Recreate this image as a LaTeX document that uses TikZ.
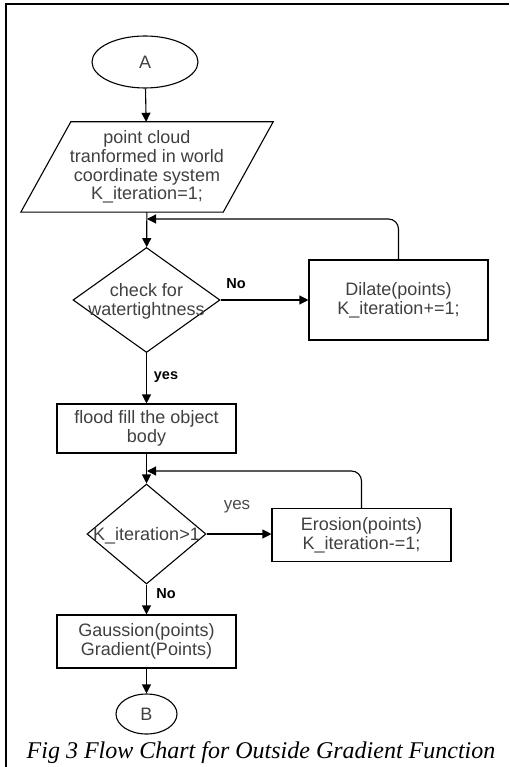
\documentclass[tikz,border=0pt]{standalone}
\usepackage{fontspec}
\setmainfont{Liberation Sans}
\newfontfamily\capfont{Liberation Serif}
\usetikzlibrary{shapes.geometric,arrows.meta}

\tikzset{
    boxtext/.style={text=black!75, align=center, inner sep=0pt, font=\fontsize{18}{18.7}\selectfont},
    flowbox/.style={boxtext, draw=black, rectangle, line width=1.1pt, minimum width=179pt},
    terminal/.style={boxtext, draw=black, ellipse, line width=1.1pt},
    decision/.style={draw=black, diamond, line width=1.1pt, inner sep=0pt},
    flowarrow/.style={line width=1.1pt, -{Triangle[length=9pt,width=9pt]}},
    branchlabel/.style={inner sep=0pt, font=\fontsize{14.5}{15}\selectfont\bfseries}
}

\begin{document}
\begin{tikzpicture}[x=1pt,y=-1pt]
\useasboundingbox (0,0) rectangle (509,767);

% frame
\draw[line width=2.2pt] (6.3,767) -- (6.3,4) -- (509,4);

% flow chart blocks
\node[terminal, minimum width=106pt, minimum height=52pt] (startA) at (145,62) {A};
\node[boxtext, minimum width=202pt, minimum height=90pt] (input) at (147,167)
    {point cloud\\tranformed in world\\coordinate system\\K\_iteration=1;};
\draw[line width=1.1pt] ([xshift=-25pt]input.south west) -- ([xshift=-25pt]input.south east)
    -- ([xshift=25pt]input.north east) -- ([xshift=25pt]input.north west) -- cycle;
\node[decision, minimum width=147pt, minimum height=105pt] (check) at (146.5,300) {};
\node[boxtext] (checktxt) at (146.5,301) {check for\\watertightness};
\node[flowbox, minimum height=80pt] (dilate) at (398.5,300) {Dilate(points)\\K\_iteration+=1;};
\node[flowbox, minimum height=49pt] (flood) at (146.5,428.5) {flood fill the object\\body};
\node[decision, minimum width=119pt, minimum height=100pt] (iter) at (146.5,534) {};
\node[boxtext] (itertxt) at (146.5,536) {K\_iteration>1};
\node[flowbox, minimum height=53pt] (erosion) at (361.5,535) {Erosion(points)\\K\_iteration-=1;};
\node[flowbox, minimum height=53pt] (smooth) at (146.5,641.5) {Gaussion(points)\\Gradient(Points)};
\node[terminal, minimum width=61pt, minimum height=40pt] (endB) at (146.5,714) {B};

% main line
\foreach \a/\b in {startA/input, input/check, check/flood, flood/iter, iter/smooth, smooth/endB}
    \draw[flowarrow] (\a) -- (\b);

% side branches and loops back
\coordinate (loopA) at (147,219);
\coordinate (loopB) at (147,471);
\draw[flowarrow] (check.east) -- (check.east -| dilate.west);
\draw[flowarrow, rounded corners=10pt] (dilate.north) |- (loopA);
\draw[flowarrow] (iter.east) -- (iter.east -| erosion.west);
\draw[flowarrow, rounded corners=10pt] (erosion.north) |- (loopB);

% branch labels
\node[branchlabel] (noA) at (236,284) {No};
\node[branchlabel] (yesA) at (166,377) {yes};
\node[inner sep=0pt, text=black!70, font=\fontsize{17}{17}\selectfont] (yesB) at (237,507) {yes};
\node[branchlabel] (noB) at (166,594) {No};

\node[inner sep=0pt, font=\capfont\itshape\fontsize{24}{24}\selectfont] (caption) at (261,753)
    {Fig 3 Flow Chart for Outside Gradient Function};
\end{tikzpicture}
\end{document}
